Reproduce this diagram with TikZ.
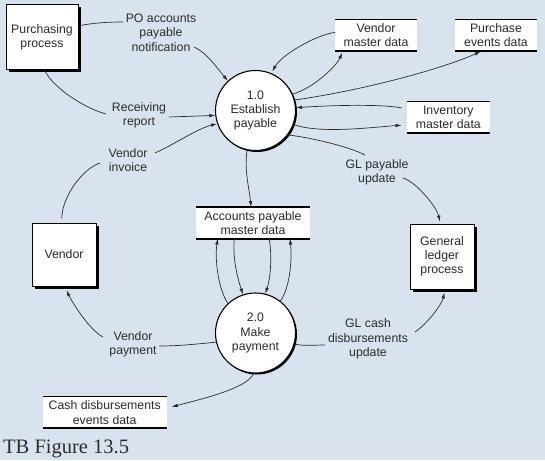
\documentclass[tikz,border=0pt]{standalone}
\usepackage{fontspec}
\newfontfamily\dfont{Liberation Sans}
\newfontfamily\capfont{Liberation Serif}
\usetikzlibrary{arrows.meta,shadows}
\definecolor{bg}{HTML}{D9E3F0}
\definecolor{ink}{HTML}{2B2B2B}
\begin{document}
\begin{tikzpicture}[x=1pt,y=-1pt,
  every node/.style={font=\dfont\fontsize{12.3}{14.3}\selectfont, text=ink, align=center, inner sep=0pt},
  entity/.style={draw=black, line width=1pt, fill=white, general shadow={fill=black, shadow xshift=2.5pt, shadow yshift=-2.5pt}},
  proc/.style={circle, draw=black, line width=1.1pt, fill=white, minimum size=80pt, general shadow={fill=black, shadow xshift=1.5pt, shadow yshift=-1.5pt}},
  store/.style={fill=white},
  stline/.style={line width=1.3pt, draw=black},
  stbot/.style={line width=2pt, draw=black},
  flow/.style={draw=ink, line width=0.7pt},
  arr/.style={flow, -{Latex[length=6pt,width=3.6pt]}}
]
\useasboundingbox (0,0) rectangle (545,460);
\fill[bg] (0,0) rectangle (545,460);

% nodes
\node[entity, minimum width=72pt, minimum height=64pt] (pp) at (42,37) {Purchasing\\process};
\node[proc] (c1) at (255.5,110.5) {1.0\\Establish\\payable};
\node[store, minimum width=82pt, minimum height=30.5pt] (vmd) at (376,35.25) {Vendor\\master data};
\node[store, minimum width=82pt, minimum height=30.5pt] (ped) at (496,35.25) {Purchase\\events data};
\node[store, minimum width=83pt, minimum height=31.5pt] (imd) at (448.3,117.5) {Inventory\\master data};
\node[store, minimum width=114pt, minimum height=31pt] (apm) at (253,222.8) {Accounts payable\\master data};
\node[entity, minimum width=64pt, minimum height=63pt] (vendor) at (64,254.5) {Vendor};
\node[entity, minimum width=64pt, minimum height=65pt] (glp) at (442,256.5) {General\\ledger\\process};
\node[proc] (c2) at (255.5,333) {2.0\\Make\\payment};
\node[store, minimum width=124pt, minimum height=31.5pt] (cde) at (104.7,412.5) {Cash disbursements\\events data};

\foreach \s in {vmd,ped,imd,apm,cde} {
  \draw[stline] (\s.north west) -- (\s.north east);
  \draw[stbot] (\s.south west) -- (\s.south east);
}

% labels
\node (lpo) at (161,32.5) {PO accounts\\payable\\notification};
\node (lrr) at (139,115) {Receiving\\report};
\node (lvi) at (128,160) {Vendor\\invoice};
\node (lgl) at (377,172.5) {GL payable\\update};
\node (lvp) at (133,344.5) {Vendor\\payment};
\node (lgc) at (368,339) {GL cash\\disbursements\\update};
\node[anchor=base west, font=\capfont\fontsize{20.5}{23}\selectfont] (cap) at (3,453.5) {TB Figure 13.5};

% free ends at labels
\coordinate (po1) at (123,22);
\coordinate (po2) at (194,47);
\coordinate (rr1) at (106,114);
\coordinate (rr2) at (169,117);
\coordinate (vi1) at (100,163);
\coordinate (vi2) at (155,153);
\coordinate (gl1) at (365,155);
\coordinate (gl2) at (403,178);
\coordinate (vp1) at (159,346);
\coordinate (vp2) at (103,337);
\coordinate (gc1) at (325,345);
\coordinate (gc2) at (415,332);

% connectors
\draw[flow] (pp.17) .. controls +(15,-3) and +(-15,0) .. (po1);
\draw[arr] (po2) .. controls +(12,5) and +(-10,-12) .. (c1.133);
\draw[flow] (pp.-86) .. controls +(8,18) and +(-22,-6) .. (rr1);
\draw[arr] (rr2) -- (c1.187);
\draw[flow, shorten <=4pt] (vendor.94) .. controls +(0,-25) and +(-18,6) .. (vi1);
\draw[arr] (vi2) .. controls +(20,-9) and +(-20,5) .. (c1.199);

\draw[arr, shorten >=2pt] (vmd.176) .. controls +(-20,3) and +(10,-18) .. (c1.67);
\draw[arr, shorten >=2pt] (c1.24) .. controls +(20,-5) and +(-6,15) .. (vmd.205);
\draw[arr, shorten >=2pt] (c1.15) .. controls +(70,-10) and +(-40,18) .. (ped.229);
\draw[arr, shorten <=5pt] (imd.168) .. controls +(-30,-5) and +(30,-2) .. (c1.4);
\draw[arr, shorten >=5pt] (c1.-20) .. controls +(25,10) and +(-30,2) .. (imd.190);
\draw[flow] (c1.-37) .. controls +(25,3) and +(-15,-8) .. (gl1);
\draw[arr, shorten >=2pt] (gl2) .. controls +(15,5) and +(-3,-15) .. (glp.93);
\draw[arr] (c1.-102) .. controls +(-3,20) and +(-2,-20) .. (apm.97);

\draw[arr] (c2.133) .. controls +(-10,-15) and +(-3,20) .. (apm.204);
\draw[arr] (apm.220) .. controls +(-2,20) and +(-5,-15) .. (c2.108);
\draw[arr] (apm.-44) .. controls +(3,20) and +(5,-15) .. (c2.76);
\draw[arr] (c2.52) .. controls +(10,-15) and +(2,20) .. (apm.-23);

\draw[flow] (c2.193) .. controls +(-20,2) and +(20,0) .. (vp1);
\draw[arr, shorten >=4pt] (vp2) .. controls +(-15,-8) and +(5,12) .. (vendor.-88);
\draw[flow] (c2.-16) .. controls +(10,2) and +(-10,0) .. (gc1);
\draw[arr, shorten >=3pt] (gc2) .. controls +(12,-8) and +(-3,15) .. (glp.-85);
\draw[arr, shorten >=5pt] (c2.-93) .. controls +(-5,15) and +(30,-8) .. (cde.4);
\end{tikzpicture}
\end{document}
